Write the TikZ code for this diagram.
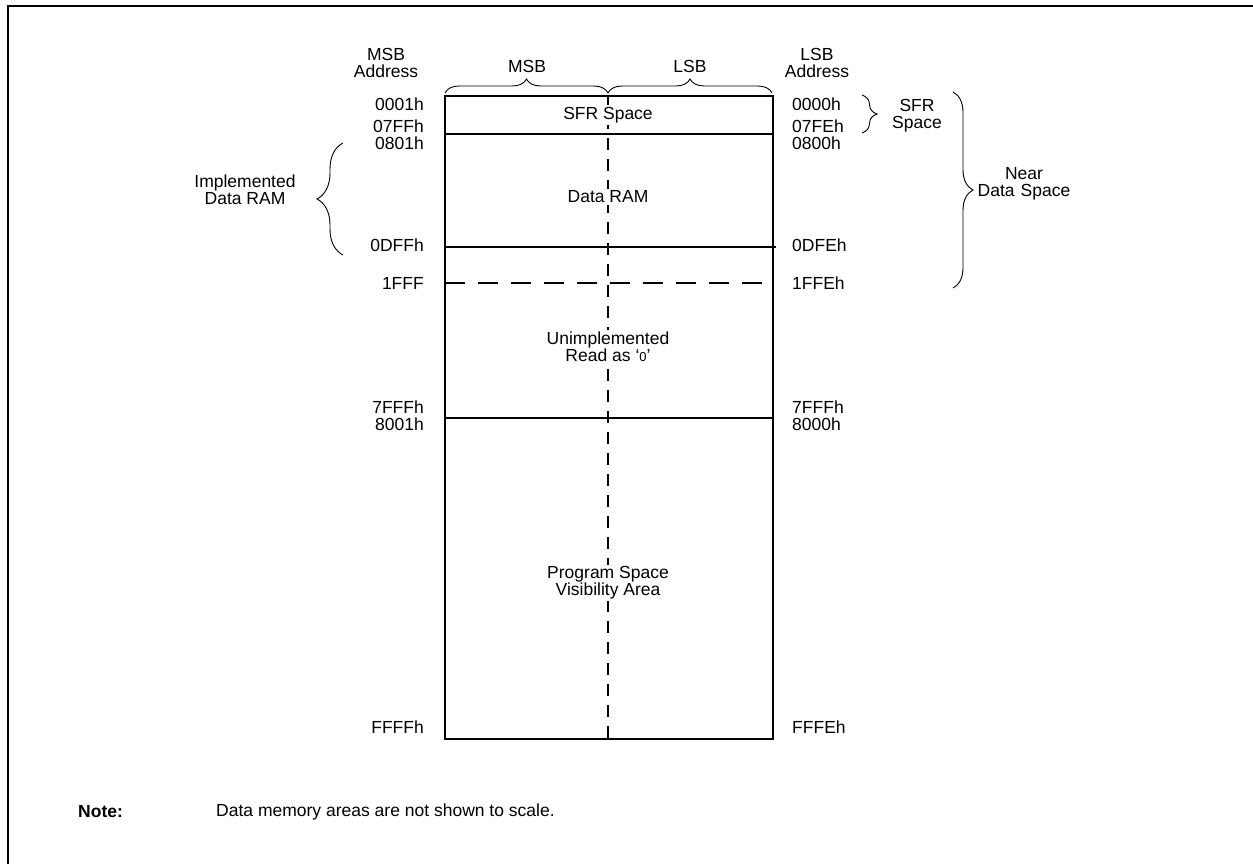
\documentclass[tikz,border=0pt]{standalone}
\usepackage{fontspec}
\setmainfont{Liberation Sans}
\usetikzlibrary{decorations.pathreplacing}
\begin{document}
\begin{tikzpicture}[x=1pt,y=-1pt,
  lbl/.style={font=\fontsize{17.5}{17}\selectfont, inner sep=0pt, align=center},
  adrL/.style={lbl, anchor=east},
  adrR/.style={lbl, anchor=west},
  boxlbl/.style={lbl, fill=white, inner sep=2pt},
  memline/.style={line width=1.6pt},
  divider/.style={line width=1.4pt},
  dashdiv/.style={line width=1.4pt, dash pattern=on 20pt off 13pt},
  centerdash/.style={line width=1.4pt, dash pattern=on 12pt off 9pt},
  bracestyle/.style={line width=0.9pt, decorate, decoration={brace, amplitude=#1}},
  frame/.style={line width=2.6pt}
]
\useasboundingbox (0,0) rectangle (1253,864);
% frame (top and left edges)
\draw[frame] (8,864) -- (8,6) -- (1253,6);

% memory box corners
\coordinate (tl) at (445,96);
\coordinate (tr) at (773,96);
\coordinate (bl) at (445,739);
\coordinate (br) at (773,739);
\coordinate (ctop) at (608,96);
\coordinate (cbot) at (608,739);

% centre dashed line
\draw[centerdash] (ctop) -- (cbot);

% dividers
\coordinate (d1l) at (445,134); \coordinate (d1r) at (773,134);
\coordinate (d2l) at (445,247); \coordinate (d2r) at (776,247);
\coordinate (d3l) at (445,283); \coordinate (d3r) at (773,283);
\coordinate (d4l) at (445,418); \coordinate (d4r) at (773,418);
\draw[divider] (d1l) -- (d1r);
\draw[divider] (d2l) -- (d2r);
\draw[dashdiv] (d3l) -- (d3r);
\draw[divider] (d4l) -- (d4r);

% box labels
\node[boxlbl] (sfr) at (608,115) {SFR Space};
\node[boxlbl] (dram) at (608,197) {Data RAM};
\node[boxlbl] (unimp) at (608,347) {Unimplemented\\Read as `{\fontsize{13}{13}\selectfont 0}'};
\node[boxlbl] (psv) at (608,583) {Program Space\\Visibility Area};

% outer box
\draw[memline] (tl) rectangle (br);

% top headers
\node[lbl] (msbaddr) at (386,63) {MSB\\Address};
\node[lbl] (lsbaddr) at (817,63) {LSB\\Address};
\node[lbl] (msb) at (527,66) {MSB};
\node[lbl] (lsb) at (690,66) {LSB};
\coordinate (bmsbL) at (445,93);
\coordinate (bmsbR) at (608,93);
\coordinate (blsbR) at (772,93);
\draw[bracestyle=14pt] (bmsbL) -- (bmsbR);
\draw[bracestyle=14pt] (bmsbR) -- (blsbR);

% left addresses
\node[adrL] (a0001) at (424,104) {0001h};
\node[adrL] (a07ff) at (424,126) {07FFh};
\node[adrL] (a0801) at (424,143) {0801h};
\node[adrL] (a0dff) at (424,245) {0DFFh};
\node[adrL] (a1fff) at (424,283) {1FFF};
\node[adrL] (a7fffL) at (424,407) {7FFFh};
\node[adrL] (a8001) at (424,424) {8001h};
\node[adrL] (affff) at (424,727) {FFFFh};

% right addresses
\node[adrR] (a0000) at (792,104) {0000h};
\node[adrR] (a07fe) at (792,126) {07FEh};
\node[adrR] (a0800) at (792,143) {0800h};
\node[adrR] (a0dfe) at (792,245) {0DFEh};
\node[adrR] (a1ffe) at (792,283) {1FFEh};
\node[adrR] (a7fffR) at (792,407) {7FFFh};
\node[adrR] (a8000) at (792,424) {8000h};
\node[adrR] (afffe) at (792,727) {FFFEh};

% SFR space brace
\coordinate (sb1) at (862,95);
\coordinate (sb2) at (862,133);
\draw[bracestyle=15pt] (sb1) -- (sb2);
\node[lbl] (sfrlbl) at (917,116) {SFR\\Space};

% Near data space brace
\coordinate (nb1) at (953,92);
\coordinate (nb2) at (953,288);
\draw[bracestyle=20pt] (nb1) -- (nb2);
\node[lbl] (nearlbl) at (1024,184) {Near\\Data\hspace{0.35em}Space};

% Implemented data RAM brace
\coordinate (ib1) at (343,255);
\coordinate (ib2) at (343,143);
\draw[bracestyle=26pt] (ib1) -- (ib2);
\node[lbl] (impl) at (245,190) {Implemented\\Data RAM};

% note
\node[lbl, anchor=west, font=\fontsize{17.5}{17}\selectfont\bfseries] (note) at (78,812) {Note:};
\node[lbl, anchor=west] (notetxt) at (216,812) {Data memory areas are not shown to scale.};
\end{tikzpicture}
\end{document}
